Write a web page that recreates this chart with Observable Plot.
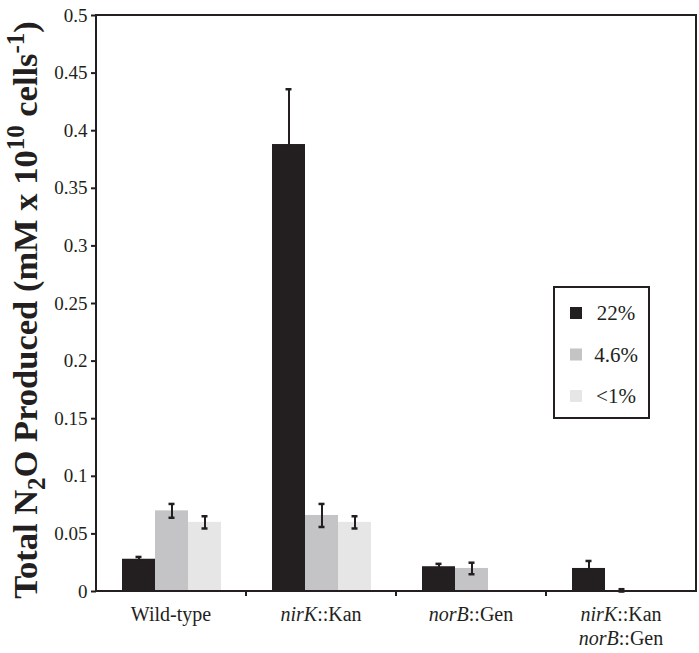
<!DOCTYPE html>
<html><head><meta charset="utf-8">
<script src="https://cdn.jsdelivr.net/npm/d3@7"></script>
<script src="https://cdn.jsdelivr.net/npm/@observablehq/plot@0.6"></script>
<style>body{margin:0;background:#fff}</style>
</head><body><div id="chart"></div>
<script>
// ---- data ----
const strains = ["Wild-type", "nirK::Kan", "norB::Gen", "nirK::Kan norB::Gen"];
const series = ["22%", "4.6%", "<1%"];
const values22 = [0.028, 0.388, 0.0215, 0.020];
const values46 = [0.070, 0.066, 0.020, 0.0005];
const valuesLt1 = [0.060, 0.060, 0, 0];
const err22 = [0.002, 0.048, 0.0025, 0.0065];
const err46 = [0.006, 0.010, 0.005, 0.0015];
const errLt1 = [0.0053, 0.0053, 0, 0];
const yTicks = [0, 0.05, 0.1, 0.15, 0.2, 0.25, 0.3, 0.35, 0.4, 0.45, 0.5];
// x labels: arrays of lines, each line an array of [text, italic]
const xLabels = [
  [[["Wild-type", false]]],
  [[["nirK", true], ["::Kan", false]]],
  [[["norB", true], ["::Gen", false]]],
  [[["nirK", true], ["::Kan", false]], [["norB", true], ["::Gen", false]]]
];
const colors = ["#231f20", "#c4c4c6", "#e6e6e7"];
const ink = "#231f20";

const valueSets = [values22, values46, valuesLt1];
const errSets = [err22, err46, errLt1];
const data = [];
strains.forEach((s, i) => series.forEach((k, j) => {
  data.push({strain: s, series: k, value: valueSets[j][i], err: errSets[j][i]});
}));
const errData = data.filter(d => d.err > 0);
const fmt = d => String(+d.toFixed(2));

const chart = Plot.plot({
  width: 699, height: 653,
  marginLeft: 96, marginRight: 3, marginTop: 15, marginBottom: 62,
  style: {background: "white", color: ink, fontFamily: "Liberation Serif"},
  fx: {domain: strains, padding: 0, axis: null, label: null},
  x: {domain: series, paddingInner: 0, paddingOuter: 0.75, axis: null, label: null},
  y: {domain: [0, 0.5], ticks: yTicks, tickFormat: fmt, label: null},
  color: {domain: series, range: colors},
  marks: [
    Plot.barY(data, {fx: "strain", x: "series", y: "value", fill: "series"}),
    Plot.ruleX(errData, {fx: "strain", x: "series", y1: d => d.value - d.err, y2: d => d.value + d.err, stroke: ink, strokeWidth: 2}),
    Plot.tickY(errData, {fx: "strain", x: "series", y: d => d.value + d.err, stroke: ink, strokeWidth: 2.5, insetLeft: 13.5, insetRight: 13.5}),
    Plot.tickY(errData, {fx: "strain", x: "series", y: d => Math.max(0, d.value - d.err), stroke: ink, strokeWidth: 2.5, insetLeft: 13.5, insetRight: 13.5}),
    Plot.axisY({ticks: yTicks, tickFormat: fmt, tickSize: 5, tickPadding: 4, fontSize: 19, strokeWidth: 2, label: null})
  ]
});

document.getElementById("chart").appendChild(chart);

const svg = d3.select(chart);
svg.attr("font-family", "Liberation Serif");
const fx = chart.scale("fx");
const y = chart.scale("y");
const x0 = fx.range[0], x1 = fx.range[1];
const yb = y.apply(0), yt = y.apply(0.5);
const serif = "Liberation Serif";

// frame
svg.append("rect").attr("x", x0).attr("y", yt).attr("width", x1 - x0).attr("height", yb - yt)
  .attr("fill", "none").attr("stroke", ink).attr("stroke-width", 2);

// boundary ticks on x axis
strains.slice(1).forEach(s => {
  const xx = fx.apply(s);
  svg.append("line").attr("x1", xx).attr("x2", xx).attr("y1", yb).attr("y2", yb + 5)
    .attr("stroke", ink).attr("stroke-width", 2);
});

// x labels
strains.forEach((s, i) => {
  const cx = fx.apply(s) + fx.bandwidth / 2;
  xLabels[i].forEach((line, li) => {
    const t = svg.append("text").attr("x", cx).attr("y", yb + 30 + li * 24)
      .attr("text-anchor", "middle")
      .attr("font-size", 20).attr("fill", ink);
    line.forEach(([txt, it]) => t.append("tspan").attr("font-style", it ? "italic" : "normal").text(txt));
  });
});

// y title
const yt2 = svg.append("text")
  .attr("transform", `translate(37,${(yt + yb) / 2 + 7}) rotate(-90)`)
  .attr("text-anchor", "middle")
  .attr("font-weight", "bold").attr("font-size", 34.5).attr("fill", ink);
yt2.append("tspan").text("Total N");
yt2.append("tspan").attr("font-size", 25).attr("dy", 8).text("2");
yt2.append("tspan").attr("dy", -8).text("O Produced (mM x 10");
yt2.append("tspan").attr("font-size", 25).attr("dy", -13).text("10");
yt2.append("tspan").attr("dy", 13).text(" cells");
yt2.append("tspan").attr("font-size", 25).attr("dy", -13).text("-1");
yt2.append("tspan").attr("dy", 13).text(")");

// legend
const lg = svg.append("g");
lg.append("rect").attr("x", 554).attr("y", 287).attr("width", 95).attr("height", 131)
  .attr("fill", "white").attr("stroke", ink).attr("stroke-width", 2);
series.forEach((k, j) => {
  const cy = 313 + j * 41.5;
  lg.append("rect").attr("x", 570).attr("y", cy - 6).attr("width", 12).attr("height", 12)
    .attr("fill", chart.scale("color").apply(k));
  lg.append("text").attr("x", 616).attr("y", cy + 7).attr("text-anchor", "middle")
    .attr("font-size", 21).attr("fill", ink).text(k);
});

// force serif on every text node
svg.selectAll("text").style("font-family", serif);
</script>
</body></html>
